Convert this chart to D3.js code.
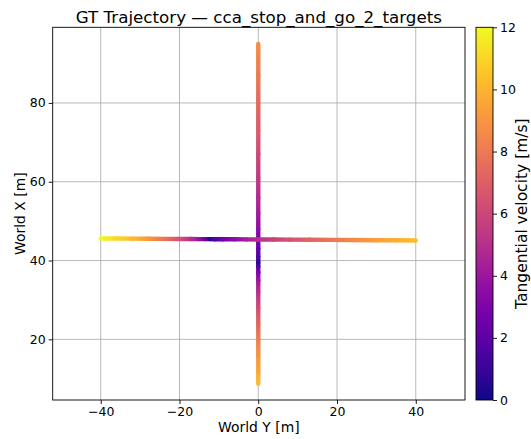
<!DOCTYPE html>
<html>
<head>
<meta charset="utf-8">
<script src="https://cdn.jsdelivr.net/npm/d3@7"></script>
<style>
  html, body { margin: 0; padding: 0; background: #fff; }
  svg { display: block; font-family: "DejaVu Sans", sans-serif; }
</style>
</head>
<body>
<svg id="chart" width="531" height="439"></svg>
<script>
// Ground-truth trajectories of the two targets (world frame, metres) and their speeds (m/s)
const targetAWorldY = [0, 0, 0, 0, 0, 0, 0, 0, 0, 0, 0, 0, 0, 0, 0, 0, 0, 0, 0, 0, 0, 0, 0];
const targetAWorldX = [8.7, 12, 16, 20, 24, 28, 32, 35, 37, 38.5, 39.5, 41, 43, 45.5, 48, 52, 56, 61, 67, 73, 80, 87, 95];
const targetASpeed  = [10.2, 9.6, 9.0, 8.2, 7.3, 6.3, 5.1, 4.0, 3.0, 2.0, 0.6, 1.6, 2.3, 3.0, 3.5, 4.2, 4.8, 5.4, 6.1, 6.8, 7.4, 8.0, 8.7];

const targetBWorldY = [-40, -36, -32, -28, -24, -20, -17, -15, -13.5, -12.3, -11, -9, -6, -3, 0, 4, 8, 13, 18, 24, 30, 35, 40];
const targetBWorldX = [45.6, 45.58, 45.55, 45.53, 45.5, 45.48, 45.46, 45.44, 45.43, 45.43, 45.42, 45.41, 45.39, 45.37, 45.35, 45.33, 45.3, 45.27, 45.24, 45.2, 45.16, 45.13, 45.1];
const targetBSpeed  = [12, 11.1, 10.2, 9.1, 7.9, 6.4, 5.0, 3.8, 2.6, 0.5, 1.7, 2.6, 3.6, 4.4, 5.0, 5.8, 6.4, 7.2, 7.8, 8.6, 9.3, 9.8, 10.3];

const xTicks = [-40, -20, 0, 20, 40];
const yTicks = [20, 40, 60, 80];
const speedTicks = [0, 2, 4, 6, 8, 10, 12];
const speedRange = [0, 12];

const titleText = "GT Trajectory \u2014 cca_stop_and_go_2_targets";
const xLabel = "World Y [m]";
const yLabel = "World X [m]";
const cbarLabel = "Tangential velocity [m/s]";

// Layout
const plot = { left: 52.7, right: 465, top: 27.3, bottom: 400 };
const cbar = { left: 476, width: 17 };
const tickFont = "12.5px";
const labelFont = "13.9px";
const cbarLabelFont = "15.5px";

const svg = d3.select("#chart");
const defs = svg.append("defs");

const x = d3.scaleLinear().domain([-52.2, 52.5]).range([plot.left, plot.right]);
const y = d3.scaleLinear().domain([4.6, 99.2]).range([plot.bottom, plot.top]);
const color = d3.scaleSequential(d3.interpolatePlasma).domain(speedRange).clamp(true);

// Grid
const grid = svg.append("g").attr("stroke", "#b0b0b0").attr("stroke-width", 0.9);
grid.selectAll("line.gx").data(xTicks).join("line")
  .attr("x1", d => x(d)).attr("x2", d => x(d))
  .attr("y1", plot.top).attr("y2", plot.bottom);
grid.selectAll("line.gy").data(yTicks).join("line")
  .attr("x1", plot.left).attr("x2", plot.right)
  .attr("y1", d => y(d)).attr("y2", d => y(d));

// Trajectory drawn as coloured segments, each blending its end speeds
const clip = defs.append("clipPath").attr("id", "plotClip");
clip.append("rect").attr("x", plot.left).attr("y", plot.top)
  .attr("width", plot.right - plot.left).attr("height", plot.bottom - plot.top);

let gradId = 0;
function drawTrack(wy, wx, speed) {
  const g = svg.append("g").attr("clip-path", "url(#plotClip)");
  for (let i = 0; i < wy.length - 1; i++) {
    const x1 = x(wy[i]), y1 = y(wx[i]), x2 = x(wy[i + 1]), y2 = y(wx[i + 1]);
    const id = "seg" + (gradId++);
    const lg = defs.append("linearGradient").attr("id", id)
      .attr("gradientUnits", "userSpaceOnUse")
      .attr("x1", x1).attr("y1", y1).attr("x2", x2).attr("y2", y2);
    lg.append("stop").attr("offset", 0).attr("stop-color", color(speed[i]));
    lg.append("stop").attr("offset", 1).attr("stop-color", color(speed[i + 1]));
    g.append("line")
      .attr("x1", x1).attr("y1", y1).attr("x2", x2).attr("y2", y2)
      .attr("stroke", `url(#${id})`)
      .attr("stroke-width", 4.4)
      .attr("stroke-linecap", "round");
  }
}
drawTrack(targetAWorldY, targetAWorldX, targetASpeed);
drawTrack(targetBWorldY, targetBWorldX, targetBSpeed);

// Axes
const xAxis = d3.axisBottom(x).tickValues(xTicks).tickSize(4).tickPadding(3.5)
  .tickFormat(d => d3.format("d")(d).replace("-", "\u2212"));
const yAxis = d3.axisLeft(y).tickValues(yTicks).tickSize(4).tickPadding(3)
  .tickFormat(d3.format("d"));

const gx = svg.append("g").attr("transform", `translate(0,${plot.bottom})`).call(xAxis);
const gy = svg.append("g").attr("transform", `translate(${plot.left},0)`).call(yAxis);
[gx, gy].forEach(g => {
  g.select(".domain").remove();
  g.selectAll(".tick line").attr("stroke", "#000").attr("stroke-width", 0.9);
  g.selectAll(".tick text").attr("fill", "#000").style("font-size", tickFont)
    .style("font-family", "'DejaVu Sans', sans-serif");
});

// Frame
svg.append("rect")
  .attr("x", plot.left).attr("y", plot.top)
  .attr("width", plot.right - plot.left).attr("height", plot.bottom - plot.top)
  .attr("fill", "none").attr("stroke", "#000").attr("stroke-width", 0.9);

// Titles
svg.append("text")
  .attr("x", (plot.left + plot.right) / 2).attr("y", 22.5)
  .attr("text-anchor", "middle").style("font-size", "16.7px").text(titleText);
svg.append("text")
  .attr("x", (plot.left + plot.right) / 2).attr("y", 431.5)
  .attr("text-anchor", "middle").style("font-size", labelFont).text(xLabel);
svg.append("text")
  .attr("transform", `translate(25,${(plot.top + plot.bottom) / 2}) rotate(-90)`)
  .attr("text-anchor", "middle").style("font-size", labelFont).text(yLabel);

// Colour bar
const cy = d3.scaleLinear().domain(speedRange).range([plot.bottom, plot.top]);
const cg = defs.append("linearGradient").attr("id", "cbarGrad")
  .attr("x1", 0).attr("y1", 1).attr("x2", 0).attr("y2", 0);
d3.range(0, 1.0001, 0.05).forEach(t => {
  cg.append("stop").attr("offset", t).attr("stop-color", d3.interpolatePlasma(t));
});
svg.append("rect")
  .attr("x", cbar.left).attr("y", plot.top)
  .attr("width", cbar.width).attr("height", plot.bottom - plot.top)
  .attr("fill", "url(#cbarGrad)")
  .attr("stroke", "#000").attr("stroke-width", 0.9);

const cAxis = d3.axisRight(cy).tickValues(speedTicks).tickSize(4).tickPadding(3)
  .tickFormat(d3.format("d"));
const gc = svg.append("g").attr("transform", `translate(${cbar.left + cbar.width},0)`).call(cAxis);
gc.select(".domain").remove();
gc.selectAll(".tick line").attr("stroke", "#000").attr("stroke-width", 0.9);
gc.selectAll(".tick text").attr("fill", "#000").style("font-size", tickFont)
  .style("font-family", "'DejaVu Sans', sans-serif");

svg.append("text")
  .attr("transform", `translate(527,${(plot.top + plot.bottom) / 2}) rotate(-90)`)
  .attr("text-anchor", "middle").style("font-size", cbarLabelFont).text(cbarLabel);
</script>
</body>
</html>
